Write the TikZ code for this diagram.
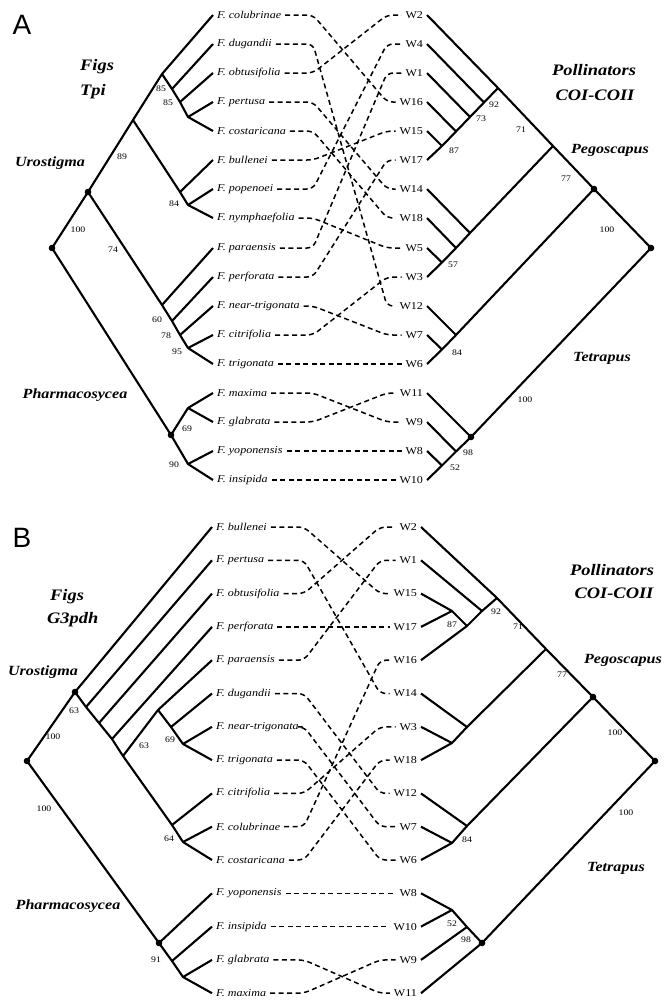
\documentclass[tikz,border=0pt]{standalone}
\usepackage{fontspec}
\setmainfont{Liberation Serif}
\newfontfamily\stretchfont[FakeStretch=1.15]{Liberation Serif}
\newfontfamily\panelfont{Liberation Sans}
\usepackage{tikz}

\tikzset{
  br/.style={line width=2.1pt,line join=round},
  tip/.style={anchor=west,inner sep=1pt,outer sep=3pt,font=\stretchfont\fontsize{10.5}{12}\selectfont\itshape},
  wasp/.style={anchor=east,inner sep=1pt,outer sep=3pt,font=\stretchfont\fontsize{10.5}{12}\selectfont},
  boot/.style={inner sep=0pt,font=\stretchfont\fontsize{8.5}{10}\selectfont},
  cladename/.style={inner sep=0pt,font=\stretchfont\fontsize{14}{16}\selectfont\bfseries\itshape},
  genename/.style={inner sep=0pt,font=\stretchfont\fontsize{16}{18}\selectfont\bfseries\itshape},
  panellabel/.style={inner sep=0pt,font=\panelfont\fontsize{28}{30}\selectfont},
  assoc/.style={line width=1.5pt,dash pattern=on 5pt off 3.5pt,rounded corners=6pt},
}

\begin{document}
\begin{tikzpicture}[x=1pt,y=-1pt]
\useasboundingbox (0,0) rectangle (666,1001);

\node[panellabel] (Apanel) at (22,25) {A};
\node[genename,anchor=west] (Afigs) at (80,67) {Figs};
\node[genename,anchor=west] (Agene) at (80,92) {Tpi};
\node[cladename] (Auro) at (50,163) {Urostigma};
\node[cladename] (Apharm) at (75,395) {Pharmacosycea};
\node[genename] (Apoll) at (594,70) {Pollinators};
\node[genename] (Acoi) at (595,95) {COI-COII};
\node[cladename] (Apego) at (610,150) {Pegoscapus};
\node[cladename] (Atetra) at (602,358) {Tetrapus};

\node[tip] (Acolubrinae) at (213,15) {F. colubrinae};
\node[tip] (Adugandii) at (213,44) {F. dugandii};
\node[tip] (Aobtusifolia) at (213,73) {F. obtusifolia};
\node[tip] (Apertusa) at (213,102) {F. pertusa};
\node[tip] (Acostaricana) at (213,131) {F. costaricana};
\node[tip] (Abullenei) at (213,160) {F. bullenei};
\node[tip] (Apopenoei) at (213,189) {F. popenoei};
\node[tip] (Anymphaefolia) at (213,218) {F. nymphaefolia};
\node[tip] (Aparaensis) at (213,248) {F. paraensis};
\node[tip] (Aperforata) at (213,277) {F. perforata};
\node[tip] (Aneartrigonata) at (213,306) {F. near-trigonata};
\node[tip] (Acitrifolia) at (213,335) {F. citrifolia};
\node[tip] (Atrigonata) at (213,364) {F. trigonata};
\node[tip] (Amaxima) at (213,393) {F. maxima};
\node[tip] (Aglabrata) at (213,422) {F. glabrata};
\node[tip] (Ayoponensis) at (213,451) {F. yoponensis};
\node[tip] (Ainsipida) at (213,480) {F. insipida};

\node[wasp] (AW2) at (427,15) {W2};
\node[wasp] (AW4) at (427,44) {W4};
\node[wasp] (AW1) at (427,73) {W1};
\node[wasp] (AW16) at (427,102) {W16};
\node[wasp] (AW15) at (427,131) {W15};
\node[wasp] (AW17) at (427,160) {W17};
\node[wasp] (AW14) at (427,189) {W14};
\node[wasp] (AW18) at (427,218) {W18};
\node[wasp] (AW5) at (427,248) {W5};
\node[wasp] (AW3) at (427,277) {W3};
\node[wasp] (AW12) at (427,306) {W12};
\node[wasp] (AW7) at (427,335) {W7};
\node[wasp] (AW6) at (427,364) {W6};
\node[wasp] (AW11) at (427,393) {W11};
\node[wasp] (AW9) at (427,422) {W9};
\node[wasp] (AW8) at (427,451) {W8};
\node[wasp] (AW10) at (427,480) {W10};

\coordinate (ArootL) at (52,248);
\coordinate (AuroL) at (88,192);
\coordinate (An89) at (133,120);
\coordinate (An85a) at (162,74);
\coordinate (An85b) at (172,89);
\coordinate (An85c) at (180,102);
\coordinate (An85d) at (188,117);
\coordinate (An84a) at (180,192);
\coordinate (An84) at (188,205);
\coordinate (An60) at (162,305);
\coordinate (An78) at (172,321);
\coordinate (An95a) at (180,335);
\coordinate (An95) at (188,348);
\coordinate (AphL) at (171,435);
\coordinate (An69) at (188,408);
\coordinate (An90) at (188,464);

\coordinate (An87) at (442,146);
\coordinate (AnW16) at (456,131.5);
\coordinate (An73) at (470,117);
\coordinate (AnW4) at (484,102.5);
\coordinate (An92) at (498,88);
\coordinate (Apeg) at (553,146);
\coordinate (AnW14) at (470,233);
\coordinate (AnW18) at (456,248);
\coordinate (An57) at (442,262.5);
\coordinate (Adot) at (594,189);
\coordinate (AnW12) at (456,335);
\coordinate (An84r) at (442,349.5);
\coordinate (ArootR) at (651,248);
\coordinate (Atet) at (471,437);
\coordinate (AnW9) at (456,451.5);
\coordinate (An52) at (442,465.5);

\draw[br] (ArootL) -- (AuroL) -- (An89) -- (An85a) -- (Acolubrinae.west);
\draw[br] (An85a) -- (An85b) -- (An85c) -- (An85d) -- (Acostaricana.west);
\draw[br] (An85b) -- (Adugandii.west);
\draw[br] (An85c) -- (Aobtusifolia.west);
\draw[br] (An85d) -- (Apertusa.west);
\draw[br] (An89) -- (An84a) -- (An84) -- (Anymphaefolia.west);
\draw[br] (An84a) -- (Abullenei.west);
\draw[br] (An84) -- (Apopenoei.west);
\draw[br] (AuroL) -- (An60) -- (An78) -- (An95a) -- (An95) -- (Atrigonata.west);
\draw[br] (An60) -- (Aparaensis.west);
\draw[br] (An78) -- (Aperforata.west);
\draw[br] (An95a) -- (Aneartrigonata.west);
\draw[br] (An95) -- (Acitrifolia.west);
\draw[br] (ArootL) -- (AphL) -- (An90) -- (Ainsipida.west);
\draw[br] (An90) -- (Ayoponensis.west);
\draw[br] (AphL) -- (An69) -- (Amaxima.west);
\draw[br] (An69) -- (Aglabrata.west);

\draw[br] (AW2.east) -- (An92) -- (Apeg) -- (Adot) -- (ArootR) -- (Atet) -- (AnW9) -- (An52) -- (AW10.east);
\draw[br] (AW17.east) -- (An87) -- (AnW16) -- (An73) -- (AnW4) -- (An92);
\draw[br] (AW15.east) -- (An87);
\draw[br] (AW16.east) -- (AnW16);
\draw[br] (AW1.east) -- (An73);
\draw[br] (AW4.east) -- (AnW4);
\draw[br] (Apeg) -- (AnW14) -- (AnW18) -- (An57) -- (AW3.east);
\draw[br] (AW14.east) -- (AnW14);
\draw[br] (AW18.east) -- (AnW18);
\draw[br] (AW5.east) -- (An57);
\draw[br] (Adot) -- (AnW12) -- (An84r) -- (AW6.east);
\draw[br] (AW12.east) -- (AnW12);
\draw[br] (AW7.east) -- (An84r);
\draw[br] (AW11.east) -- (Atet);
\draw[br] (AW9.east) -- (AnW9);
\draw[br] (AW8.east) -- (An52);

\fill (ArootL) circle (3.3) (AuroL) circle (3.3) (AphL) circle (3.3);
\fill (Adot) circle (3.3) (ArootR) circle (3.3) (Atet) circle (3.3);

\node[boot] (Ab100) at (78,230) {100};
\node[boot] (Ab74) at (113,250) {74};
\node[boot] (Ab89) at (122,157) {89};
\node[boot] (Ab85a) at (161,89) {85};
\node[boot] (Ab85b) at (168,103) {85};
\node[boot] (Ab84) at (174,204) {84};
\node[boot] (Ab60) at (157,320) {60};
\node[boot] (Ab78) at (166,336) {78};
\node[boot] (Ab95) at (177,352) {95};
\node[boot] (Ab69) at (187,429) {69};
\node[boot] (Ab90) at (174,465) {90};
\node[boot] (Ab92) at (494,105) {92};
\node[boot] (Ab73) at (481,119) {73};
\node[boot] (Ab87) at (454,151) {87};
\node[boot] (Ab71) at (521,130) {71};
\node[boot] (Ab77) at (566,179) {77};
\node[boot] (Ab100r) at (607,230) {100};
\node[boot] (Ab57) at (453,265) {57};
\node[boot] (Ab84r) at (457,353) {84};
\node[boot] (Ab98) at (468,453) {98};
\node[boot] (Ab52) at (455,468) {52};
\node[boot] (Ab100t) at (525,400) {100};

\coordinate (ALb) at (313,0);
\coordinate (ARb) at (387,0);
\draw[assoc] (Acolubrinae.east) -- (Acolubrinae.east -| ALb) -- (AW16.west -| ARb) -- (AW16.west);
\draw[assoc] (Adugandii.east) -- (Adugandii.east -| ALb) -- (AW12.west -| ARb) -- (AW12.west);
\draw[assoc] (Aobtusifolia.east) -- (Aobtusifolia.east -| ALb) -- (AW2.west -| ARb) -- (AW2.west);
\draw[assoc] (Apertusa.east) -- (Apertusa.east -| ALb) -- (AW14.west -| ARb) -- (AW14.west);
\draw[assoc] (Acostaricana.east) -- (Acostaricana.east -| ALb) -- (AW18.west -| ARb) -- (AW18.west);
\draw[assoc] (Abullenei.east) -- (Abullenei.east -| ALb) -- (AW15.west -| ARb) -- (AW15.west);
\draw[assoc] (Apopenoei.east) -- (Apopenoei.east -| ALb) -- (AW4.west -| ARb) -- (AW4.west);
\draw[assoc] (Anymphaefolia.east) -- (Anymphaefolia.east -| ALb) -- (AW5.west -| ARb) -- (AW5.west);
\draw[assoc] (Aparaensis.east) -- (Aparaensis.east -| ALb) -- (AW1.west -| ARb) -- (AW1.west);
\draw[assoc] (Aperforata.east) -- (Aperforata.east -| ALb) -- (AW17.west -| ARb) -- (AW17.west);
\draw[assoc] (Aneartrigonata.east) -- (Aneartrigonata.east -| ALb) -- (AW7.west -| ARb) -- (AW7.west);
\draw[assoc] (Acitrifolia.east) -- (Acitrifolia.east -| ALb) -- (AW3.west -| ARb) -- (AW3.west);
\draw[assoc] (Atrigonata.east) -- (AW6.west);
\draw[assoc] (Amaxima.east) -- (Amaxima.east -| ALb) -- (AW9.west -| ARb) -- (AW9.west);
\draw[assoc] (Aglabrata.east) -- (Aglabrata.east -| ALb) -- (AW11.west -| ARb) -- (AW11.west);
\draw[assoc] (Ayoponensis.east) -- (AW8.west);
\draw[assoc] (Ainsipida.east) -- (AW10.west);

\node[panellabel] (Bpanel) at (22,538) {B};
\node[genename,anchor=west] (Bfigs) at (50,597) {Figs};
\node[genename,anchor=west] (Bgene) at (47,620) {G3pdh};
\node[cladename] (Buro) at (43,672) {Urostigma};
\node[cladename] (Bpharm) at (68,906) {Pharmacosycea};
\node[genename] (Bpoll) at (612,570) {Pollinators};
\node[genename] (Bcoi) at (614,593) {COI-COII};
\node[cladename] (Bpego) at (623,660) {Pegoscapus};
\node[cladename] (Btetra) at (616,868) {Tetrapus};

\node[tip] (Bbullenei) at (212,527) {F. bullenei};
\node[tip] (Bpertusa) at (212,560.3) {F. pertusa};
\node[tip] (Bobtusifolia) at (212,593.6) {F. obtusifolia};
\node[tip] (Bperforata) at (212,626.9) {F. perforata};
\node[tip] (Bparaensis) at (212,660.2) {F. paraensis};
\node[tip] (Bdugandii) at (212,693.5) {F. dugandii};
\node[tip] (Bneartrigonata) at (212,726.8) {F. near-trigonata};
\node[tip] (Btrigonata) at (212,760.1) {F. trigonata};
\node[tip] (Bcitrifolia) at (212,793.4) {F. citrifolia};
\node[tip] (Bcolubrinae) at (212,826.7) {F. colubrinae};
\node[tip] (Bcostaricana) at (212,860) {F. costaricana};
\node[tip] (Byoponensis) at (212,893.3) {F. yoponensis};
\node[tip] (Binsipida) at (212,926.6) {F. insipida};
\node[tip] (Bglabrata) at (212,959.9) {F. glabrata};
\node[tip] (Bmaxima) at (212,993.2) {F. maxima};

\node[wasp] (BW2) at (421,527) {W2};
\node[wasp] (BW1) at (421,560.3) {W1};
\node[wasp] (BW15) at (421,593.6) {W15};
\node[wasp] (BW17) at (421,626.9) {W17};
\node[wasp] (BW16) at (421,660.2) {W16};
\node[wasp] (BW14) at (421,693.5) {W14};
\node[wasp] (BW3) at (421,726.8) {W3};
\node[wasp] (BW18) at (421,760.1) {W18};
\node[wasp] (BW12) at (421,793.4) {W12};
\node[wasp] (BW7) at (421,826.7) {W7};
\node[wasp] (BW6) at (421,860) {W6};
\node[wasp] (BW8) at (421,893.3) {W8};
\node[wasp] (BW10) at (421,926.6) {W10};
\node[wasp] (BW9) at (421,959.9) {W9};
\node[wasp] (BW11) at (421,993.2) {W11};

\coordinate (BrootL) at (27,761);
\coordinate (BuroL) at (75,692);
\coordinate (Bn63) at (86,707);
\coordinate (Bnob) at (99,723);
\coordinate (Bnpf) at (112,739);
\coordinate (Bnpa) at (123,756);
\coordinate (Bn63b) at (158,710);
\coordinate (Bndu) at (171,727);
\coordinate (Bn69) at (183,744);
\coordinate (Bnci) at (172,825);
\coordinate (Bn64) at (183,842);
\coordinate (BphL) at (159,943);
\coordinate (Bnin) at (172,961);
\coordinate (Bngl) at (183,977);

\coordinate (Bn87) at (452,611);
\coordinate (Bnw16) at (467,626);
\coordinate (Bnw1) at (482,611);
\coordinate (Bn92) at (497,598);
\coordinate (Bpeg) at (546,649);
\coordinate (Bnw14) at (467,727);
\coordinate (Bnw3) at (452,743);
\coordinate (Bdot) at (593,697);
\coordinate (Bnw12) at (467,826);
\coordinate (Bn84) at (452,843);
\coordinate (BrootR) at (655,761);
\coordinate (Btet) at (482,943);
\coordinate (Bnw9) at (467,927);
\coordinate (Bn52) at (452,910);

\draw[br] (BrootL) -- (BuroL) -- (Bbullenei.west);
\draw[br] (BuroL) -- (Bn63) -- (Bnob) -- (Bnpf) -- (Bnpa) -- (Bnci) -- (Bn64) -- (Bcostaricana.west);
\draw[br] (Bn63) -- (Bpertusa.west);
\draw[br] (Bnob) -- (Bobtusifolia.west);
\draw[br] (Bnpf) -- (Bperforata.west);
\draw[br] (Bnpa) -- (Bn63b) -- (Bparaensis.west);
\draw[br] (Bn63b) -- (Bndu) -- (Bn69) -- (Btrigonata.west);
\draw[br] (Bndu) -- (Bdugandii.west);
\draw[br] (Bn69) -- (Bneartrigonata.west);
\draw[br] (Bnci) -- (Bcitrifolia.west);
\draw[br] (Bn64) -- (Bcolubrinae.west);
\draw[br] (BrootL) -- (BphL) -- (Bnin) -- (Bngl) -- (Bmaxima.west);
\draw[br] (BphL) -- (Byoponensis.west);
\draw[br] (Bnin) -- (Binsipida.west);
\draw[br] (Bngl) -- (Bglabrata.west);

\draw[br] (BW2.east) -- (Bn92) -- (Bpeg) -- (Bdot) -- (BrootR) -- (Btet) -- (BW11.east);
\draw[br] (Bn92) -- (Bnw1) -- (Bnw16) -- (BW16.east);
\draw[br] (BW1.east) -- (Bnw1);
\draw[br] (Bnw16) -- (Bn87) -- (BW15.east);
\draw[br] (Bn87) -- (BW17.east);
\draw[br] (Bpeg) -- (Bnw14) -- (Bnw3) -- (BW18.east);
\draw[br] (BW14.east) -- (Bnw14);
\draw[br] (BW3.east) -- (Bnw3);
\draw[br] (Bdot) -- (Bnw12) -- (Bn84) -- (BW6.east);
\draw[br] (BW12.east) -- (Bnw12);
\draw[br] (BW7.east) -- (Bn84);
\draw[br] (Btet) -- (Bnw9) -- (Bn52) -- (BW8.east);
\draw[br] (BW9.east) -- (Bnw9);
\draw[br] (BW10.east) -- (Bn52);

\fill (BrootL) circle (3.3) (BuroL) circle (3.3) (BphL) circle (3.3);
\fill (Bdot) circle (3.3) (BrootR) circle (3.3) (Btet) circle (3.3);

\node[boot] (Bb100) at (53,737) {100};
\node[boot] (Bb63) at (74,711) {63};
\node[boot] (Bb63b) at (144,746) {63};
\node[boot] (Bb69) at (170,740) {69};
\node[boot] (Bb64) at (169,839) {64};
\node[boot] (Bb100p) at (44,809) {100};
\node[boot] (Bb91) at (156,960) {91};
\node[boot] (Bb92) at (496,612) {92};
\node[boot] (Bb87) at (452,625) {87};
\node[boot] (Bb71) at (518,627) {71};
\node[boot] (Bb77) at (562,675) {77};
\node[boot] (Bb100r) at (615,733) {100};
\node[boot] (Bb84) at (467,840) {84};
\node[boot] (Bb52) at (452,924) {52};
\node[boot] (Bb98) at (466,940) {98};
\node[boot] (Bb100t) at (626,813) {100};

\coordinate (BLb) at (304,0);
\coordinate (BRb) at (380,0);
\draw[assoc] (Bbullenei.east) -- (Bbullenei.east -| BLb) -- (BW15.west -| BRb) -- (BW15.west);
\draw[assoc] (Bpertusa.east) -- (Bpertusa.east -| BLb) -- (BW14.west -| BRb) -- (BW14.west);
\draw[assoc] (Bobtusifolia.east) -- (Bobtusifolia.east -| BLb) -- (BW2.west -| BRb) -- (BW2.west);
\draw[assoc] (Bperforata.east) -- (BW17.west);
\draw[assoc] (Bparaensis.east) -- (Bparaensis.east -| BLb) -- (BW1.west -| BRb) -- (BW1.west);
\draw[assoc] (Bdugandii.east) -- (Bdugandii.east -| BLb) -- (BW12.west -| BRb) -- (BW12.west);
\draw[assoc] (Bneartrigonata.east) -- (Bneartrigonata.east -| BLb) -- (BW7.west -| BRb) -- (BW7.west);
\draw[assoc] (Btrigonata.east) -- (Btrigonata.east -| BLb) -- (BW6.west -| BRb) -- (BW6.west);
\draw[assoc] (Bcitrifolia.east) -- (Bcitrifolia.east -| BLb) -- (BW3.west -| BRb) -- (BW3.west);
\draw[assoc] (Bcolubrinae.east) -- (Bcolubrinae.east -| BLb) -- (BW16.west -| BRb) -- (BW16.west);
\draw[assoc] (Bcostaricana.east) -- (Bcostaricana.east -| BLb) -- (BW18.west -| BRb) -- (BW18.west);
\draw[assoc] (Byoponensis.east) -- (BW8.west);
\draw[assoc] (Binsipida.east) -- (BW10.west);
\draw[assoc] (Bglabrata.east) -- (Bglabrata.east -| BLb) -- (BW11.west -| BRb) -- (BW11.west);
\draw[assoc] (Bmaxima.east) -- (Bmaxima.east -| BLb) -- (BW9.west -| BRb) -- (BW9.west);
\end{tikzpicture}
\end{document}
